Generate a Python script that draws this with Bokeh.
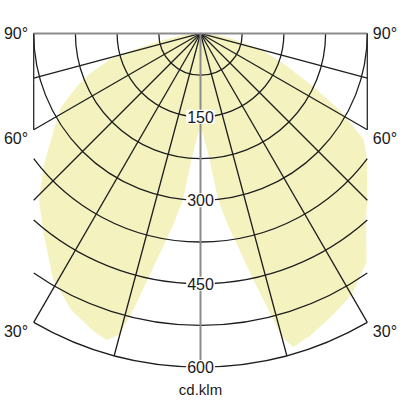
import numpy as np
from bokeh.plotting import figure
from bokeh.models import Range1d
from bokeh.core.properties import value
from bokeh.embed import file_html
from bokeh.resources import INLINE

# ---- data (cd/klm) ----
left_angles = [90, 85, 80, 76, 74, 70, 67, 62, 56, 50, 44, 38, 31, 25, 20, 17, 15, 13.5, 12, 10, 8, 6, 4, 2, 0]
left_I = [0, 30, 70, 130, 170, 212, 240, 285, 320, 368, 418, 458, 515, 549, 568, 577, 560, 505, 448, 390, 345, 300, 225, 190, 165]
right_angles = [0, 2, 4, 6, 8, 10, 12, 13.5, 15, 16.5, 20, 25, 30, 36, 42, 45, 48, 53, 57, 61, 65, 70, 74, 77, 81, 85, 90]
right_I = [165, 190, 225, 300, 345, 390, 450, 500, 565, 588, 578, 560, 543, 508, 445, 424, 403, 375, 350, 288, 222, 160, 120, 85, 55, 30, 0]

ring_values = [75, 150, 225, 300, 375, 450, 525, 600]
ring_labels = ["150", "300", "450", "600"]
ring_label_values = [150, 300, 450, 600]
ray_angles = [-90, -75, -60, -45, -30, -15, 0, 15, 30, 45, 60, 75, 90]
angle_labels = ["90°", "60°", "30°"]
angle_label_y = [0, -188, -536]
unit_label = "cd.klm"
half_width = 300
r_max = 600

FONT = value("Liberation Sans")

p = figure(width=400, height=400,
           x_range=Range1d(-359.7, 359.7), y_range=Range1d(-660.1, 59.3),
           output_backend="svg", toolbar_location=None,
           x_axis_location=None, y_axis_location=None, min_border=0)
p.grid.visible = False
p.outline_line_color = None
p.background_fill_color = "white"
p.border_fill_color = "white"

# ---- light distribution ----
th = np.concatenate([-np.radians(left_angles), np.radians(right_angles)])
ii = np.concatenate([left_I, right_I]).astype(float)
px = np.clip(ii * np.sin(th), -half_width, half_width)
py = -ii * np.cos(th)
p.patch(px, py, fill_color="#f4f3c0", line_color=None)

# ---- rings ----
rv = np.array(ring_values, dtype=float)
tmax = np.where(rv <= half_width, np.pi / 2, np.arcsin(np.minimum(1.0, half_width / rv)))
p.arc(x=[0] * len(rv), y=[0] * len(rv), radius=list(rv),
      start_angle=list(-np.pi / 2 - tmax), end_angle=list(-np.pi / 2 + tmax),
      line_color="#1e1e1e", line_width=1.3)

# ---- rays ----
ra = np.radians(ray_angles)
lengths = np.array([r_max if abs(a) < 1e-9 else min(r_max, half_width / abs(np.sin(a))) for a in ra])
x1 = lengths * np.sin(ra)
y1 = -lengths * np.cos(ra)
dark = [i for i, a in enumerate(ray_angles) if abs(a) not in (0, 90)]
gray = [i for i, a in enumerate(ray_angles) if abs(a) in (0, 90)]
p.segment(x0=[0] * len(dark), y0=[0] * len(dark), x1=list(x1[dark]), y1=list(y1[dark]),
          line_color="#1e1e1e", line_width=1.3)
p.segment(x0=[0] * len(gray), y0=[0] * len(gray), x1=list(x1[gray]), y1=list(y1[gray]),
          line_color="#8c8c8c", line_width=2)

# side edges (90° to 60°)
edge_bottom = -half_width / np.tan(np.radians(60))
p.segment(x0=[-half_width, half_width], y0=[0, 0], x1=[-half_width, half_width],
          y1=[edge_bottom, edge_bottom], line_color="#2a2a2a", line_width=1.3)

# ---- labels ----
p.text(x=[0] * len(ring_labels), y=[-v for v in ring_label_values], text=ring_labels,
       text_font=FONT, text_font_size="16px", text_color="#1a1a1a",
       text_align="center", text_baseline="middle",
       background_fill_color="white", padding=1)
p.text(x=[-310] * 3, y=angle_label_y, text=angle_labels, text_font=FONT,
       text_font_size="16px", text_color="#1a1a1a", text_align="right", text_baseline="middle")
p.text(x=[310] * 3, y=angle_label_y, text=angle_labels, text_font=FONT,
       text_font_size="16px", text_color="#1a1a1a", text_align="left", text_baseline="middle")
p.text(x=[0], y=[-641], text=[unit_label], text_font=FONT, text_font_size="15px",
       text_color="#1a1a1a", text_align="center", text_baseline="middle")

open("out.html", "w").write(file_html(p, INLINE))
